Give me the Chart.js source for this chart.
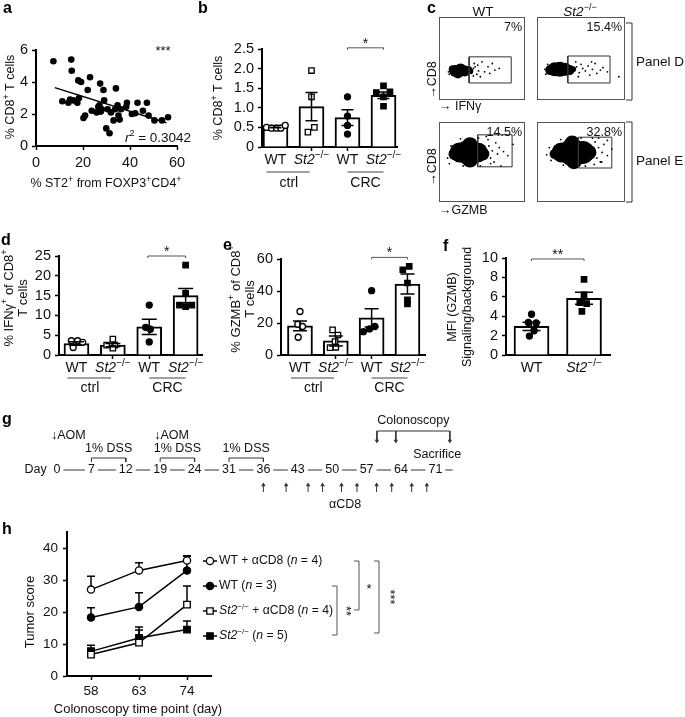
<!DOCTYPE html>
<html lang="en">
<head>
<meta charset="UTF-8">
<title>ST2 deficiency and CD8 T cells</title>
<script src="https://cdn.jsdelivr.net/npm/chart.js"></script>
<style>
  body { margin: 0; background: #fff; }
  #page { position: relative; width: 685px; height: 717px; overflow: hidden; background: #fff; }
  #page canvas { position: absolute; left: 0; top: 0; }
</style>
</head>
<body>
<div id="page"></div>
<script>
const FAM = '"Liberation Sans", Arial, Helvetica, sans-serif';
const W = 685, H = 717;

// ---------- data ----------
// a: % CD8+ vs % ST2+ of Treg
const aX = [7.4,15,15.2,18,19.2,23,22,27.3,28.7,34,11.2,13.8,14.5,15.9,17.6,18.3,20.2,20.9,23.7,25.8,
            27,28,29,27.6,29.9,31.3,31.9,33,33.7,34.7,35.1,35.6,38.7,38.4,40.8,42.2,43.2,45.5,47.2,47.9,
            50.4,53.6,56.2,26.5,30.5,36.2];
const aY = [5.3,5.4,4.7,4.1,4.0,4.3,3.5,3.9,3.5,3.6,2.8,2.7,2.9,2.85,2.7,3.0,1.75,1.9,2.2,2.1,
            2.55,2.3,2.85,2.15,1.1,0.8,2.1,1.6,2.3,2.55,1.9,1.65,2.7,2.45,2.0,2.05,2.7,2.2,2.7,1.9,
            1.6,1.6,1.8,2.45,2.3,2.3];
const aFitX = [8, 55.5];
const aFitY = [3.65, 1.45];

const barLabels = ['WT', '_St2_^−/−^', 'WT', '_St2_^−/−^'];

// b: % CD8+ T cells
const bMeans = [0.52, 1.03, 0.75, 1.32];
const bSems = [0.03, 0.36, 0.20, 0.08];
const bPoints = [[0.50,0.48,0.48,0.48,0.55],[1.95,1.28,0.38,0.50],[1.28,0.79,0.55,0.33],[1.56,1.39,1.41,1.28,1.04]];
const bJitter = [[-0.25,-0.11,0.03,0.15,0.27],[0,0,-0.1,0.08],[0,0,0,0],[0,-0.2,0.18,0,0]];

// d: % IFNg+ of CD8+
const dMeans = [2.9, 2.5, 7.1, 15.0];
const dSems = [0.45, 0.4, 1.9, 1.8];
const dPoints = [[3.6,3.6,3.2,1.9],[4.0,2.5,2.5,1.7],[12.6,7.0,6.5,3.3],[22.7,15.6,12.6,12.6,12.2]];
const dJitter = [[-0.14,0.03,0.17,-0.09],[0,-0.17,0.05,0],[0,-0.1,0.03,0],[0,0,-0.17,0.17,0]];

// e: % GZMB+ of CD8+
const eMeans = [18.2, 8.8, 23.2, 44.4];
const eSems = [3.1, 3.1, 5.7, 6.2];
const ePoints = [[27.2,19.2,17.8,11.1],[15.7,12.5,8.4,4.8,4.6],[40.2,17.8,16.3,14.6],[53.3,55.4,45.0,34.5,32.0]];
const eJitter = [[0,-0.06,0.07,-0.05],[-0.09,0.06,-0.02,0,-0.16],[0,0.09,-0.06,-0.23],[-0.13,0.05,0,0,0]];

// f: MFI (GZMB)
const fLabels = ['WT', '_St2_^−/−^'];
const fMeans = [2.95, 5.85];
const fSems = [0.42, 0.62];
const fPoints = [[4.2,3.35,3.3,2.5,1.95],[7.8,6.2,5.4,5.3,4.5]];
const fJitter = [[0,-0.06,0.09,0.05,-0.04],[0,0,-0.08,0.05,-0.04]];

// c: flow plots (blobs are dense cores, dots are sparse events, gates are rectangles)
const flowPct = ['7%', '15.4%', '14.5%', '32.8%'];
const flowBlobs = [
  [[16,37,4],[19,35,6],[25,36,6.5],[22,32,5],[30,35,5.5],[34,36,4],[37,35,2.5]],
  [[15,36,5],[20,37,7],[26,37,7.5],[32,37,6.5],[37,36,5],[41,37,3]],
  [[18,60,6],[24,62,10],[34,62,12.5],[45,62,10],[51,60,6.5],[36,71,8],[36,53,8]],
  [[20,60,5],[28,62,10],[40,62,13.5],[52,62,11.5],[59,62,7.5],[40,73,8],[42,51,8]]
];
const flowDots = [
  [[40,38],[42,40],[46,35],[50,46],[53,34],[59,32],[65,36],[57,40],[44,31],[48,28],[62,44],[70,38],[100,36],[38,32],[45,42],[11,34],[13,39],[12,31],[40,29],[41,44]],
  [[45,40],[48,33],[50,43],[52,38],[55,35],[58,41],[60,30],[63,37],[66,44],[68,32],[72,36],[75,39],[80,34],[93,28],[62,46],[47,28],[9,37],[44,46],[10,31],[12,43]],
  [[58,70],[60,55],[62,64],[64,50],[66,74],[68,60],[70,68],[72,45],[75,63],[80,58],[86,72],[60,48],[57,78],[10,55],[55,82],[14,70],[12,48],[25,79],[46,80],[28,45],[48,45]],
  [[66,75],[68,55],[70,68],[72,50],[74,62],[76,72],[80,58],[85,66],[80,77],[73.5,50],[63,80],[11,59],[65,47],[14,68],[70,80],[16,52],[27,78],[30,46],[55,45],[50,80]]
];
const flowGates = [[35,20.5,84,52],[35,20.5,83,53],[45,44,85,84],[47,42.5,85,81]];
const flowBoxes = [[439,17,525,100],[537,17,625,100],[439,122,525,202],[537,122,625,202]];

// g: timeline
const gDays = ['0','7','12','19','24','31','36','43','50','57','64','71'];
const gDSS = [[1,2],[3,4],[5,6]];
const gAOM = [0, 3];
const gColon = [9.3, 9.85, 11.42];
const gAntiCD8 = [6.0, 6.66, 7.3, 7.72, 8.27, 8.72, 9.29, 9.73, 10.31, 10.75];

// h: tumor score
const hDays = ['58', '63', '74'];
const hNames = ['WT + αCD8 (_n_ = 4)', 'WT (_n_ = 3)', '_St2_^−/−^ + αCD8 (_n_ = 4)', '_St2_^−/−^ (_n_ = 5)'];
const hWTaCD8 = [27.0, 33.0, 36.1];
const hWT = [18.3, 21.6, 33.0];
const hKOaCD8 = [6.7, 10.4, 22.3];
const hKO = [7.7, 11.9, 14.5];
const hWTaCD8Err = [4.2, 2.4, 1.5];
const hWTErr = [3.0, 4.4, 4.4];
const hKOaCD8Err = [2.0, 4.9, 5.8];
const hKOErr = [1.9, 2.5, 2.7];

// ---------- helpers ----------
const marks = [
  {shape: 'circle', fill: '#fff'}, {shape: 'rect', fill: '#fff'},
  {shape: 'circle', fill: '#000'}, {shape: 'rect', fill: '#000'}
];

// draw text with _italic_ and ^superscript^ parts
function rich(ctx, str, x, y, o = {}) {
  const size = o.size || 13, align = o.align || 'center';
  const segs = [];
  let it = false, sup = false, buf = '';
  for (const ch of str) {
    if (ch === '_' || ch === '^') {
      if (buf) segs.push({t: buf, it, sup});
      buf = '';
      if (ch === '_') it = !it; else sup = !sup;
    } else buf += ch;
  }
  if (buf) segs.push({t: buf, it, sup});
  const fontOf = s => `${s.it ? 'italic ' : ''}${o.bold ? 'bold ' : ''}${s.sup ? Math.round(size * 0.68) : size}px ${FAM}`;
  let total = 0;
  segs.forEach(s => { ctx.font = fontOf(s); s.w = ctx.measureText(s.t).width; total += s.w; });
  ctx.save();
  ctx.translate(x, y);
  if (o.rot) ctx.rotate(o.rot);
  let cx = align === 'center' ? -total / 2 : align === 'right' ? -total : 0;
  if (o.bg) { ctx.fillStyle = '#fff'; ctx.fillRect(cx - 3, -size * 0.6, total + 6, size * 1.2); }
  ctx.fillStyle = o.color || '#111';
  ctx.textBaseline = 'middle';
  ctx.textAlign = 'left';
  segs.forEach(s => {
    ctx.font = fontOf(s);
    ctx.fillText(s.t, cx, s.sup ? -size * 0.33 : 0);
    cx += s.w;
  });
  ctx.restore();
  return total;
}

function newCanvas() {
  const c = document.createElement('canvas');
  c.width = W; c.height = H;
  document.getElementById('page').appendChild(c);
  return c.getContext('2d');
}

function makeChart(cfg) {
  const ctx = newCanvas();
  cfg.options = Object.assign({responsive: false, animation: false, events: []}, cfg.options);
  cfg.options.plugins = Object.assign({legend: {display: false}, tooltip: {enabled: false}}, cfg.options.plugins || {});
  return new Chart(ctx, cfg);
}

function axis(extra, tickFont = 14.5, tickPad = 4) {
  return Object.assign({
    border: {display: true, color: '#000', width: 2},
    grid: {drawOnChartArea: false, offset: false, color: '#000', tickLength: 4, tickWidth: 1.5},
    ticks: {color: '#111', font: {family: FAM, size: tickFont}, padding: tickPad, maxRotation: 0, autoSkip: false}
  }, extra);
}

// error bars from dataset.errors (drawn over bars, or behind line markers)
const errorBars = {
  id: 'errorBars',
  draw(chart, behind) {
    const ctx = chart.ctx, ys = chart.scales.y;
    chart.data.datasets.forEach((ds, i) => {
      if (!ds.errors || !!ds.errBehind !== behind) return;
      const meta = chart.getDatasetMeta(i);
      ctx.save();
      ctx.strokeStyle = '#000';
      ctx.lineWidth = 1.5;
      meta.data.forEach((el, k) => {
        const raw = ds.data[k];
        const v = typeof raw === 'object' ? raw.y : raw;
        const e = ds.errors[k], half = ds.capW / 2, x = el.x;
        const yTop = ys.getPixelForValue(v + e);
        const yBot = ds.upOnly ? ys.getPixelForValue(v) : ys.getPixelForValue(v - e);
        ctx.beginPath();
        ctx.moveTo(x, yTop); ctx.lineTo(x, yBot);
        ctx.moveTo(x - half, yTop); ctx.lineTo(x + half, yTop);
        if (!ds.upOnly) { ctx.moveTo(x - half, yBot); ctx.lineTo(x + half, yBot); }
        ctx.stroke();
      });
      ctx.restore();
    });
  },
  beforeDatasetsDraw(chart) { this.draw(chart, true); },
  afterDatasetsDraw(chart) { this.draw(chart, false); }
};

function panelLetter(ctx, t, x, y) { rich(ctx, t, x, y, {size: 16, bold: true, align: 'left', color: '#000'}); }

// ---------- panel a ----------
(function () {
  const x0 = 36, y0 = 50, x1 = 177, y1 = 146, yW = 36, xH = 30;
  makeChart({
    type: 'scatter',
    data: {datasets: [
      {data: aX.map((x, i) => ({x, y: aY[i]})), pointRadius: 3.3, backgroundColor: '#000', borderWidth: 0},
      {type: 'line', data: aFitX.map((x, i) => ({x, y: aFitY[i]})), borderColor: '#000', borderWidth: 1.5, pointRadius: 0}
    ]},
    options: {
      layout: {padding: {left: x0 - yW, top: y0, right: W - x1, bottom: H - y1 - xH}},
      scales: {
        x: axis({type: 'linear', min: 0, max: 60, afterFit: s => { s.height = xH; }}),
        y: axis({type: 'linear', min: 0, max: 6, afterFit: s => { s.width = yW; }})
      }
    },
    plugins: [{id: 'decoA', afterDraw(chart) {
      const ctx = chart.ctx;
      rich(ctx, '% CD8^+^ T cells', 11, 97, {size: 12.5, rot: -Math.PI / 2});
      rich(ctx, '% ST2^+^ from FOXP3^+^CD4^+^', 106, 184, {size: 12.5});
      rich(ctx, '***', 163, 51, {size: 13});
      rich(ctx, '_r_^2^ = 0.3042', 158, 138, {size: 13.5});
      panelLetter(ctx, 'a', 3, 9);
    }}]
  });
})();

// ---------- bar panels (b, d, e, f) ----------
function barChart(P) {
  const yW = 40, xH = 40;
  const n = P.means.length;
  const ds = [{
    type: 'bar', data: P.means.map((m, i) => ({x: i, y: m})), errors: P.sems, capW: P.capW,
    backgroundColor: '#fff', borderColor: '#000', borderWidth: 2, borderSkipped: 'bottom',
    barThickness: P.barW, order: 3
  }];
  P.points.forEach((vals, i) => {
    const m = marks[P.marks[i]];
    ds.push({
      type: 'scatter', data: vals.map((v, k) => ({x: i + P.jitter[i][k], y: v})),
      pointStyle: m.shape, pointRadius: m.shape === 'rect' ? 3.8 : 3,
      backgroundColor: m.fill, borderColor: '#000', borderWidth: 1.3, order: 1
    });
  });
  makeChart({
    type: 'bar',
    data: {datasets: ds},
    options: {
      layout: {padding: {left: P.x0 - yW, top: P.y0, right: W - P.x1, bottom: H - P.y1 - xH}},
      scales: {
        x: axis({
          type: 'linear', min: P.xmin, max: P.xmax, offset: false,
          afterFit: s => { s.height = xH; },
          afterBuildTicks: s => { s.ticks = s.ticks.filter(t => Number.isInteger(t.value) && t.value >= 0 && t.value < n); },
          ticks: {stepSize: 1, autoSkip: false, color: 'rgba(0,0,0,0)', font: {family: FAM, size: 13}}
        }),
        y: axis({
          type: 'linear', min: 0, max: P.ymax, afterFit: s => { s.width = yW; },
          ticks: {stepSize: P.step, autoSkip: false, color: '#111', font: {family: FAM, size: 14.5}, padding: 4,
                  callback: P.fmt || (v => v)}
        })
      }
    },
    plugins: [errorBars, {id: 'deco', afterDraw(chart) {
      const ctx = chart.ctx, xs = chart.scales.x, ys = chart.scales.y;
      P.labels.forEach((t, i) => rich(ctx, t, xs.getPixelForValue(i), P.labY, {size: 14}));
      ctx.strokeStyle = '#444';
      ctx.lineWidth = 1;
      (P.groups || []).forEach(g => {
        const a = xs.getPixelForValue(g.from), b = xs.getPixelForValue(g.to);
        ctx.beginPath(); ctx.moveTo(a, P.grpLineY); ctx.lineTo(b, P.grpLineY); ctx.stroke();
        rich(ctx, g.name, xs.getPixelForValue(g.at), P.grpY, {size: 14});
      });
      P.sig.forEach(s => {
        const a = xs.getPixelForValue(s.from), b = xs.getPixelForValue(s.to), y = ys.getPixelForValue(s.y);
        ctx.strokeStyle = '#555';
        ctx.beginPath(); ctx.moveTo(a, y + 2); ctx.lineTo(a, y); ctx.lineTo(b, y); ctx.lineTo(b, y + 2); ctx.stroke();
        rich(ctx, s.text, (a + b) / 2, y - 4, {size: 14});
      });
      P.yTitle.forEach((t, k) => rich(ctx, t, P.yTitleX[k], P.yTitleY, {size: P.titleSize, rot: -Math.PI / 2}));
      panelLetter(ctx, P.letter[0], P.letter[1], P.letter[2]);
    }}]
  });
}

const groupsCRC = [{name: 'ctrl', from: -0.25, to: 0.95, at: 0.37}, {name: 'CRC', from: 2.0, to: 3.0, at: 2.5}];

barChart({
  means: bMeans, sems: bSems, points: bPoints, jitter: bJitter, marks: [0, 1, 2, 3],
  x0: 262, y0: 49, x1: 397, y1: 147, xmin: -0.375, xmax: 3.375, ymax: 2.5, step: 0.5,
  fmt: v => v === 0 ? '0' : v.toFixed(1),
  barW: 25, capW: 12, labels: barLabels, labY: 160, grpLineY: 172, grpY: 183, groups: groupsCRC,
  sig: [{from: 2, to: 3, y: 2.53, text: '*'}],
  yTitle: ['% CD8^+^ T cells'], yTitleX: [219], yTitleY: 98, titleSize: 12.5, letter: ['b', 198, 9]
});

barChart({
  means: dMeans, sems: dSems, points: dPoints, jitter: dJitter, marks: [0, 1, 2, 3],
  x0: 59, y0: 256, x1: 202, y1: 355, xmin: -0.48, xmax: 3.45, ymax: 25, step: 5,
  barW: 25, capW: 15, labels: barLabels, labY: 368, grpLineY: 378, grpY: 388, groups: groupsCRC,
  sig: [{from: 1.96, to: 3, y: 25, text: '*'}],
  yTitle: ['% IFNγ^+^ of CD8^+^', 'T cells'], yTitleX: [9, 23], yTitleY: 298, titleSize: 13, letter: ['d', 1, 241]
});

barChart({
  means: eMeans, sems: eSems, points: ePoints, jitter: eJitter, marks: [0, 1, 2, 3],
  x0: 281, y0: 259, x1: 425, y1: 355, xmin: -0.53, xmax: 3.49, ymax: 60, step: 20,
  barW: 25, capW: 14, labels: barLabels, labY: 368, grpLineY: 378, grpY: 388, groups: groupsCRC,
  sig: [{from: 2, to: 3, y: 61, text: '*'}],
  yTitle: ['% GZMB^+^ of CD8^+^', 'T cells'], yTitleX: [236, 250], yTitleY: 299, titleSize: 13, letter: ['e', 223, 246]
});

barChart({
  means: fMeans, sems: fSems, points: fPoints, jitter: fJitter, marks: [2, 3],
  x0: 506, y0: 258, x1: 610, y1: 355, xmin: -0.486, xmax: 1.495, ymax: 10, step: 2,
  barW: 35, capW: 18, labels: fLabels, labY: 368,
  sig: [{from: 0, to: 1, y: 9.9, text: '**'}],
  yTitle: ['MFI (GZMB)', 'Signaling/background'], yTitleX: [453, 468], yTitleY: 307, titleSize: 12.5, letter: ['f', 443, 247]
});

// ---------- panel c: flow plots ----------
flowBoxes.forEach((box, p) => {
  const [bx0, by0, bx1, by1] = box;
  const [gx0, gy0, gx1, gy1] = flowGates[p];
  makeChart({
    type: 'scatter',
    data: {datasets: [
      {type: 'line', data: [{x: gx0, y: gy0}, {x: gx1, y: gy0}, {x: gx1, y: gy1}, {x: gx0, y: gy1}, {x: gx0, y: gy0}],
       borderColor: '#333', borderWidth: 1, pointRadius: 0},
      {data: flowDots[p].map(d => ({x: d[0], y: d[1]})), pointRadius: 0.9, backgroundColor: '#000', borderWidth: 0},
      {type: 'bubble', data: flowBlobs[p].map(d => ({x: d[0], y: d[1], r: d[2]})), backgroundColor: '#000', borderWidth: 0}
    ]},
    options: {
      layout: {padding: {left: bx0, top: by0, right: W - bx1, bottom: H - by1}},
      scales: {
        x: {type: 'linear', min: 0, max: 100, display: false},
        y: {type: 'linear', min: 0, max: 100, display: false}
      }
    },
    plugins: [{id: 'frame', afterDraw(chart) {
      const ctx = chart.ctx, a = chart.chartArea;
      ctx.save();
      ctx.strokeStyle = '#555';
      ctx.lineWidth = 1;
      ctx.strokeRect(a.left + 0.5, a.top + 0.5, a.right - a.left - 1, a.bottom - a.top - 1);
      ctx.restore();
      rich(ctx, flowPct[p], a.right - 3, a.top + 11, {size: 12.5, align: 'right'});
      if (p !== 0) return;
      rich(ctx, 'WT', 483, 12, {size: 13.5});
      rich(ctx, '_St2_^−/−^', 580, 12, {size: 13.5});
      rich(ctx, '→CD8', 433, 80, {size: 12.5, rot: -Math.PI / 2});
      rich(ctx, '→CD8', 433, 167, {size: 12.5, rot: -Math.PI / 2});
      rich(ctx, '→ IFNγ', 439, 107, {size: 12.5, align: 'left'});
      rich(ctx, '→GZMB', 439, 211, {size: 12.5, align: 'left'});
      ctx.strokeStyle = '#333';
      ctx.lineWidth = 1;
      [[23, 100], [122, 202]].forEach(([t, b]) => {
        ctx.beginPath(); ctx.moveTo(626, t); ctx.lineTo(632, t); ctx.lineTo(632, b); ctx.lineTo(626, b); ctx.stroke();
      });
      rich(ctx, 'Panel D', 636, 62, {size: 13.5, align: 'left'});
      rich(ctx, 'Panel E', 636, 161, {size: 13.5, align: 'left'});
      panelLetter(ctx, 'c', 427, 9);
    }}]
  });
});

// ---------- panel g: timeline ----------
(function () {
  const R = {colText: 6, colLine: 16, colTip: 26, aom: 21, dssText: 34, dssLine: 43, dssTick: 47,
             sac: 40, day: 55, cd8Base: 77, cd8Tip: 70, cd8Text: 90};
  const dss = [];
  gDSS.forEach(([a, b]) => dss.push({x: a, y: R.dssTick}, {x: a, y: R.dssLine}, {x: b, y: R.dssLine}, {x: b, y: R.dssTick}, {x: b, y: null}));
  const colon = [{x: gColon[0], y: R.colLine}, {x: gColon[gColon.length - 1], y: R.colLine}, {x: gColon[gColon.length - 1], y: null}];
  gColon.forEach(c => colon.push({x: c, y: R.colLine}, {x: c, y: R.colTip - 1}, {x: c, y: null}));
  const cd8 = [];
  gAntiCD8.forEach(c => cd8.push({x: c, y: R.cd8Base}, {x: c, y: R.cd8Tip + 1}, {x: c, y: null}));
  const line = {type: 'line', borderColor: '#333', borderWidth: 1, pointRadius: 0, spanGaps: false};
  makeChart({
    type: 'scatter',
    data: {datasets: [
      Object.assign({data: [{x: 0, y: R.day}, {x: 11.5, y: R.day}]}, line),
      Object.assign({data: dss}, line),
      Object.assign({data: colon}, line),
      Object.assign({data: cd8}, line),
      {data: gColon.map(c => ({x: c, y: R.colTip})), pointStyle: 'triangle', rotation: 180, pointRadius: 2.6, backgroundColor: '#333', borderWidth: 0},
      {data: gAntiCD8.map(c => ({x: c, y: R.cd8Tip})), pointStyle: 'triangle', pointRadius: 2.6, backgroundColor: '#333', borderWidth: 0}
    ]},
    options: {
      layout: {padding: {left: 57, top: 415, right: W - (57 + 34.4 * 12), bottom: H - 515}},
      scales: {
        x: {type: 'linear', min: 0, max: 12, display: false},
        y: {type: 'linear', min: 0, max: 100, reverse: true, display: false}
      }
    },
    plugins: [{id: 'decoG', afterDraw(chart) {
      const ctx = chart.ctx, xs = chart.scales.x, ys = chart.scales.y;
      const X = v => xs.getPixelForValue(v), Y = v => ys.getPixelForValue(v);
      gDays.forEach((d, i) => rich(ctx, d, X(i), Y(R.day), {size: 12.5, bg: true}));
      rich(ctx, 'Day', X(-0.3), Y(R.day), {size: 12.5, align: 'right'});
      gDSS.forEach(([a, b]) => rich(ctx, '1% DSS', (X(a) + X(b)) / 2, Y(R.dssText), {size: 12.5}));
      gAOM.forEach(s => rich(ctx, '↓AOM', X(s) - 6, Y(R.aom), {size: 12.5, align: 'left'}));
      rich(ctx, 'Colonoscopy', (X(gColon[0]) + X(gColon[2])) / 2, Y(R.colText), {size: 12.5});
      rich(ctx, 'Sacrifice', X(11.75), Y(R.sac), {size: 12.5, align: 'right'});
      rich(ctx, 'αCD8', (X(gAntiCD8[0]) + X(gAntiCD8[gAntiCD8.length - 1])) / 2, Y(R.cd8Text), {size: 12.5});
      panelLetter(ctx, 'g', 2, 420);
    }}]
  });
})();

// ---------- panel h ----------
(function () {
  const x0 = 67, y0 = 532, x1 = 211, y1 = 676, yW = 45, xH = 41;
  const series = [
    {d: hWTaCD8, e: hWTaCD8Err, m: 0},
    {d: hWT, e: hWTErr, m: 2},
    {d: hKOaCD8, e: hKOaCD8Err, m: 1},
    {d: hKO, e: hKOErr, m: 3}
  ];
  const ds = series.map(s => {
    const m = marks[s.m];
    return {
      data: s.d, errors: s.e, upOnly: true, errBehind: true, capW: 8,
      borderColor: '#000', borderWidth: 1.5, pointStyle: m.shape,
      pointRadius: m.shape === 'rect' ? 4.6 : 3.6, pointBackgroundColor: m.fill,
      pointBorderColor: '#000', pointBorderWidth: 1.3
    };
  });
  makeChart({
    type: 'line',
    data: {labels: hDays, datasets: ds},
    options: {
      layout: {padding: {left: x0 - yW, top: y0, right: W - x1, bottom: H - y1 - xH}},
      scales: {
        x: axis({type: 'category', offset: true, afterFit: s => { s.height = xH; }}, 13.5, 3),
        y: axis({type: 'linear', min: 0, max: 45, afterFit: s => { s.width = yW; },
                 afterBuildTicks: s => { s.ticks = s.ticks.filter(t => t.value % 10 === 0); }}, 13.5, 5)
      }
    },
    plugins: [errorBars, {id: 'decoH', afterDraw(chart) {
      const ctx = chart.ctx;
      rich(ctx, 'Tumor score', 30, 612, {size: 13, rot: -Math.PI / 2});
      rich(ctx, 'Colonoscopy time point (day)', 138, 709, {size: 13});
      const ly = [561, 586, 611, 636];
      ctx.save();
      series.forEach((s, i) => {
        const y = ly[i], m = marks[s.m];
        ctx.strokeStyle = '#000'; ctx.lineWidth = 1.5;
        ctx.beginPath(); ctx.moveTo(203, y); ctx.lineTo(217, y); ctx.stroke();
        ctx.fillStyle = m.fill; ctx.lineWidth = 1.3;
        ctx.beginPath();
        if (m.shape === 'circle') ctx.arc(210, y, 3.6, 0, Math.PI * 2);
        else ctx.rect(206.8, y - 3.2, 6.4, 6.4);
        ctx.fill(); ctx.stroke();
        rich(ctx, hNames[i], 219, y, {size: 12.2, align: 'left'});
      });
      ctx.strokeStyle = '#555'; ctx.lineWidth = 1;
      [[337, 586, 635], [359, 561, 610], [379, 561, 633]].forEach(([x, t, b]) => {
        ctx.beginPath(); ctx.moveTo(x - 5, t); ctx.lineTo(x, t); ctx.lineTo(x, b); ctx.lineTo(x - 5, b); ctx.stroke();
      });
      ctx.restore();
      rich(ctx, '**', 346, 611, {size: 13, rot: Math.PI / 2});
      rich(ctx, '*', 369, 589, {size: 13});
      rich(ctx, '***', 390, 597, {size: 13, rot: Math.PI / 2});
      panelLetter(ctx, 'h', 2, 530);
    }}]
  });
})();
</script>
</body>
</html>
